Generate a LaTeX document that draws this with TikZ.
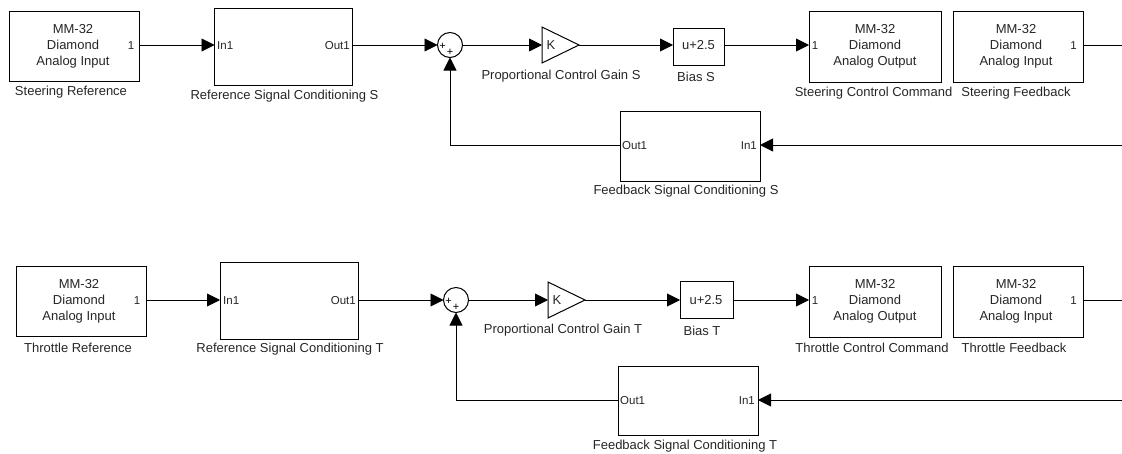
\documentclass[tikz,border=0pt]{standalone}
\usepackage{fontspec}
\setmainfont{Liberation Sans}
\usetikzlibrary{arrows.meta,shapes.geometric}
\definecolor{tc}{gray}{0.15}
\tikzset{
  x=1pt,y=-1pt,
  blk/.style={draw=black,line width=1pt,fill=white,inner sep=0pt,outer sep=0pt},
  lbl/.style={inner sep=0pt,yshift=-1.5pt,font=\fontsize{13}{15}\selectfont,text=tc},
  txt/.style={inner sep=0pt,yshift=-1pt,font=\fontsize{13}{16}\selectfont,text=tc,align=center},
  prt/.style={inner sep=0pt,yshift=-0.5pt,font=\fontsize{11.5}{12}\selectfont,text=tc},
  plus/.style={inner sep=0pt,font=\fontsize{11}{11}\selectfont,text=black},
  sumb/.style={draw=black,circle,line width=1pt,minimum size=25pt,inner sep=0pt,outer sep=0pt},
  gainb/.style={draw=black,line width=1pt,isosceles triangle,isosceles triangle apex angle=52,isosceles triangle stretches,minimum height=37pt,minimum width=36pt,inner sep=0pt,outer sep=0pt,anchor=apex},
  wire/.style={draw=black,line width=0.9pt,-{Triangle[length=13pt,width=13pt]}},
  plain/.style={draw=black,line width=0.9pt},
}
\begin{document}
\begin{tikzpicture}
\useasboundingbox (0,0) rectangle (1122,453);
% top row
\node[blk,anchor=north west,minimum width=130pt,minimum height=70pt] (a1) at (9.5,11.5) {};
\node[txt] (a1t) at (73,45.5) {MM-32\\Diamond\\Analog Input};
\node[prt] (a1p) at (131,45) {1};
\node[lbl] (a1l) at (71,90.5) {Steering Reference};
\node[blk,anchor=north west,minimum width=138pt,minimum height=77pt] (b1) at (214.5,8) {};
\node[prt,anchor=west] (b1i) at (217,45) {In1};
\node[prt,anchor=east] (b1o) at (350,45) {Out1};
\node[lbl] (b1l) at (284.5,95) {Reference Signal Conditioning S};
\node[sumb] (s1) at (450,45) {};
\node[plus] (s1a) at (442.5,46) {+};
\node[plus] (s1b) at (450,52) {+};
\node[gainb] (g1) at (579,45) {};
\node[lbl] (g1t) at (551,44) {K};
\node[lbl] (g1l) at (561,75) {Proportional Control Gain S};
\node[blk,anchor=north west,minimum width=51pt,minimum height=37pt] (c1) at (673,28) {};
\node[lbl] (c1t) at (698.5,44) {u+2.5};
\node[lbl] (c1l) at (696,75) {Bias S};
\node[blk,anchor=north west,minimum width=132pt,minimum height=71pt] (d1) at (809,11) {};
\node[txt] (d1t) at (875,45.5) {MM-32\\Diamond\\Analog Output};
\node[prt] (d1p) at (815,45) {1};
\node[lbl] (d1l) at (873.5,91.5) {Steering Control Command};
\node[blk,anchor=north west,minimum width=130pt,minimum height=71pt] (e1) at (953,11) {};
\node[txt] (e1t) at (1016,45.5) {MM-32\\Diamond\\Analog Input};
\node[prt] (e1p) at (1073.5,45) {1};
\node[lbl] (e1l) at (1016,91.5) {Steering Feedback};
\node[blk,anchor=north west,minimum width=140pt,minimum height=70pt] (f1) at (620,111) {};
\node[prt,anchor=west] (f1o) at (622,145) {Out1};
\node[prt,anchor=east] (f1i) at (757,145) {In1};
\node[lbl] (f1l) at (686,190) {Feedback Signal Conditioning S};
\coordinate (r1a) at (1122,45);
\coordinate (r1b) at (1122,145);
\draw[wire] (a1.east |- 0,45) -- (b1.west |- 0,45);
\draw[wire] (b1.east |- 0,45) -- (s1.west);
\draw[wire] (s1.east) -- (g1.west |- s1.east);
\draw[wire] (g1.apex) -- (c1.west |- g1.apex);
\draw[wire] (c1.east |- g1.apex) -- (d1.west |- g1.apex);
\draw[plain] (e1.east |- 0,45) -- (r1a);
\draw[wire] (r1b) -- (f1.east |- r1b);
\draw[wire] (f1.west |- r1b) -| (s1.south);
% bottom row
\node[blk,anchor=north west,minimum width=130pt,minimum height=70pt] (a2) at (16,266) {};
\node[txt] (a2t) at (79,300.5) {MM-32\\Diamond\\Analog Input};
\node[prt] (a2p) at (137,300) {1};
\node[lbl] (a2l) at (78,346) {Throttle Reference};
\node[blk,anchor=north west,minimum width=138pt,minimum height=77pt] (b2) at (220,262) {};
\node[prt,anchor=west] (b2i) at (223,300) {In1};
\node[prt,anchor=east] (b2o) at (356,300) {Out1};
\node[lbl] (b2l) at (290,348) {Reference Signal Conditioning T};
\node[sumb] (s2) at (456,300) {};
\node[plus] (s2a) at (448.5,301) {+};
\node[plus] (s2b) at (456,307) {+};
\node[gainb] (g2) at (585,300) {};
\node[lbl] (g2t) at (557,299) {K};
\node[lbl] (g2l) at (563,328.5) {Proportional Control Gain T};
\node[blk,anchor=north west,minimum width=53pt,minimum height=37pt] (c2) at (680,281) {};
\node[lbl] (c2t) at (706,299) {u+2.5};
\node[lbl] (c2l) at (702,329) {Bias T};
\node[blk,anchor=north west,minimum width=132pt,minimum height=71pt] (d2) at (809,266) {};
\node[txt] (d2t) at (875,300.5) {MM-32\\Diamond\\Analog Output};
\node[prt] (d2p) at (815,300) {1};
\node[lbl] (d2l) at (872,346) {Throttle Control Command};
\node[blk,anchor=north west,minimum width=130pt,minimum height=71pt] (e2) at (953,266) {};
\node[txt] (e2t) at (1016,300.5) {MM-32\\Diamond\\Analog Input};
\node[prt] (e2p) at (1073.5,300) {1};
\node[lbl] (e2l) at (1014,346) {Throttle Feedback};
\node[blk,anchor=north west,minimum width=140pt,minimum height=69pt] (f2) at (618,366) {};
\node[prt,anchor=west] (f2o) at (620,400) {Out1};
\node[prt,anchor=east] (f2i) at (755,400) {In1};
\node[lbl] (f2l) at (685,445) {Feedback Signal Conditioning T};
\coordinate (r2a) at (1122,300);
\coordinate (r2b) at (1122,400);
\draw[wire] (a2.east |- 0,300) -- (b2.west |- 0,300);
\draw[wire] (b2.east |- 0,300) -- (s2.west);
\draw[wire] (s2.east) -- (g2.west |- s2.east);
\draw[wire] (g2.apex) -- (c2.west |- g2.apex);
\draw[wire] (c2.east |- g2.apex) -- (d2.west |- g2.apex);
\draw[plain] (e2.east |- 0,300) -- (r2a);
\draw[wire] (r2b) -- (f2.east |- r2b);
\draw[wire] (f2.west |- r2b) -| (s2.south);
\end{tikzpicture}
\end{document}
